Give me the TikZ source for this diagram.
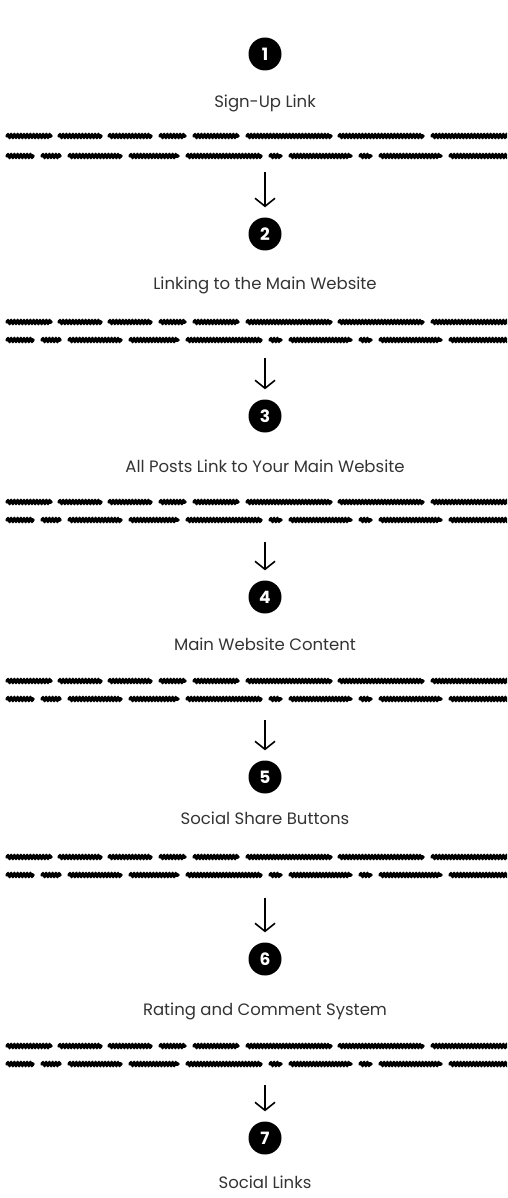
\documentclass[tikz,border=0pt]{standalone}
\usepackage{fontspec}
\setmainfont{Poppins}
\usetikzlibrary{arrows.meta,decorations.pathmorphing}

\tikzset{
	stepnum/.style={circle, fill=black, text=white, minimum size=33pt, inner sep=0pt, font=\fontsize{17}{17}\selectfont\bfseries},
	steptitle/.style={text=black!80, font=\fontsize{16.5}{19}\selectfont},
	blur/.style={line width=3.8pt, line cap=round, decorate, decoration={snake, amplitude=0.8pt, segment length=3.2pt}},
	flow/.style={line width=1.6pt, -{Straight Barb[length=8pt,width=20pt,line width=1.6pt]}, shorten >=10pt}
}

% two rows of blurred words
\newcommand{\blurlines}[2]{%
	\foreach \a/\b in {7/51, 59/101, 109/151, 160/185, 194/238, 247/331, 339/423, 432/520}
		\draw [blur] (\a,#1) -- (\b,#1);
	\foreach \a/\b in {7/33, 42/60, 69/121, 130/178, 187/261, 270/281, 290/351, 360/371, 380/441, 450/520}
		\draw [blur] (\a,#2) -- (\b,#2);
}

\begin{document}
\begin{tikzpicture}[x=1pt, y=-1pt]
	\useasboundingbox (0,0) rectangle (507,1198);
	\clip (0,0) rectangle (507,1198);

	\node [stepnum] (num1) at (265,54) {1};
	\node [steptitle] (title1) at (265,103) {Sign-Up Link};
	\blurlines{136}{156}
	\coordinate (top1) at (265,172);

	\node [stepnum] (num2) at (265,234) {2};
	\node [steptitle] (title2) at (265,285) {Linking to the Main Website};
	\blurlines{322}{340}
	\coordinate (top2) at (265,358);

	\node [stepnum] (num3) at (265,416) {3};
	\node [steptitle] (title3) at (265,466) {All Posts Link to Your Main Website};
	\blurlines{502}{520}
	\coordinate (top3) at (265,542);

	\node [stepnum] (num4) at (265,597) {4};
	\node [steptitle] (title4) at (265,644) {Main Website Content};
	\blurlines{681}{699}
	\coordinate (top4) at (265,720);

	\node [stepnum] (num5) at (265,777) {5};
	\node [steptitle] (title5) at (265,818) {Social Share Buttons};
	\blurlines{857}{875}
	\coordinate (top5) at (265,898);

	\node [stepnum] (num6) at (265,959) {6};
	\node [steptitle] (title6) at (265,1011) {Rating and Comment System};
	\blurlines{1046}{1064}
	\coordinate (top6) at (265,1085);

	\node [stepnum] (num7) at (265,1138) {7};
	\node [steptitle] (title7) at (265,1182) {Social Links};

	\draw [flow] (top1) -- (num2.north);
	\draw [flow] (top2) -- (num3.north);
	\draw [flow] (top3) -- (num4.north);
	\draw [flow] (top4) -- (num5.north);
	\draw [flow] (top5) -- (num6.north);
	\draw [flow] (top6) -- (num7.north);

\end{tikzpicture}
\end{document}
